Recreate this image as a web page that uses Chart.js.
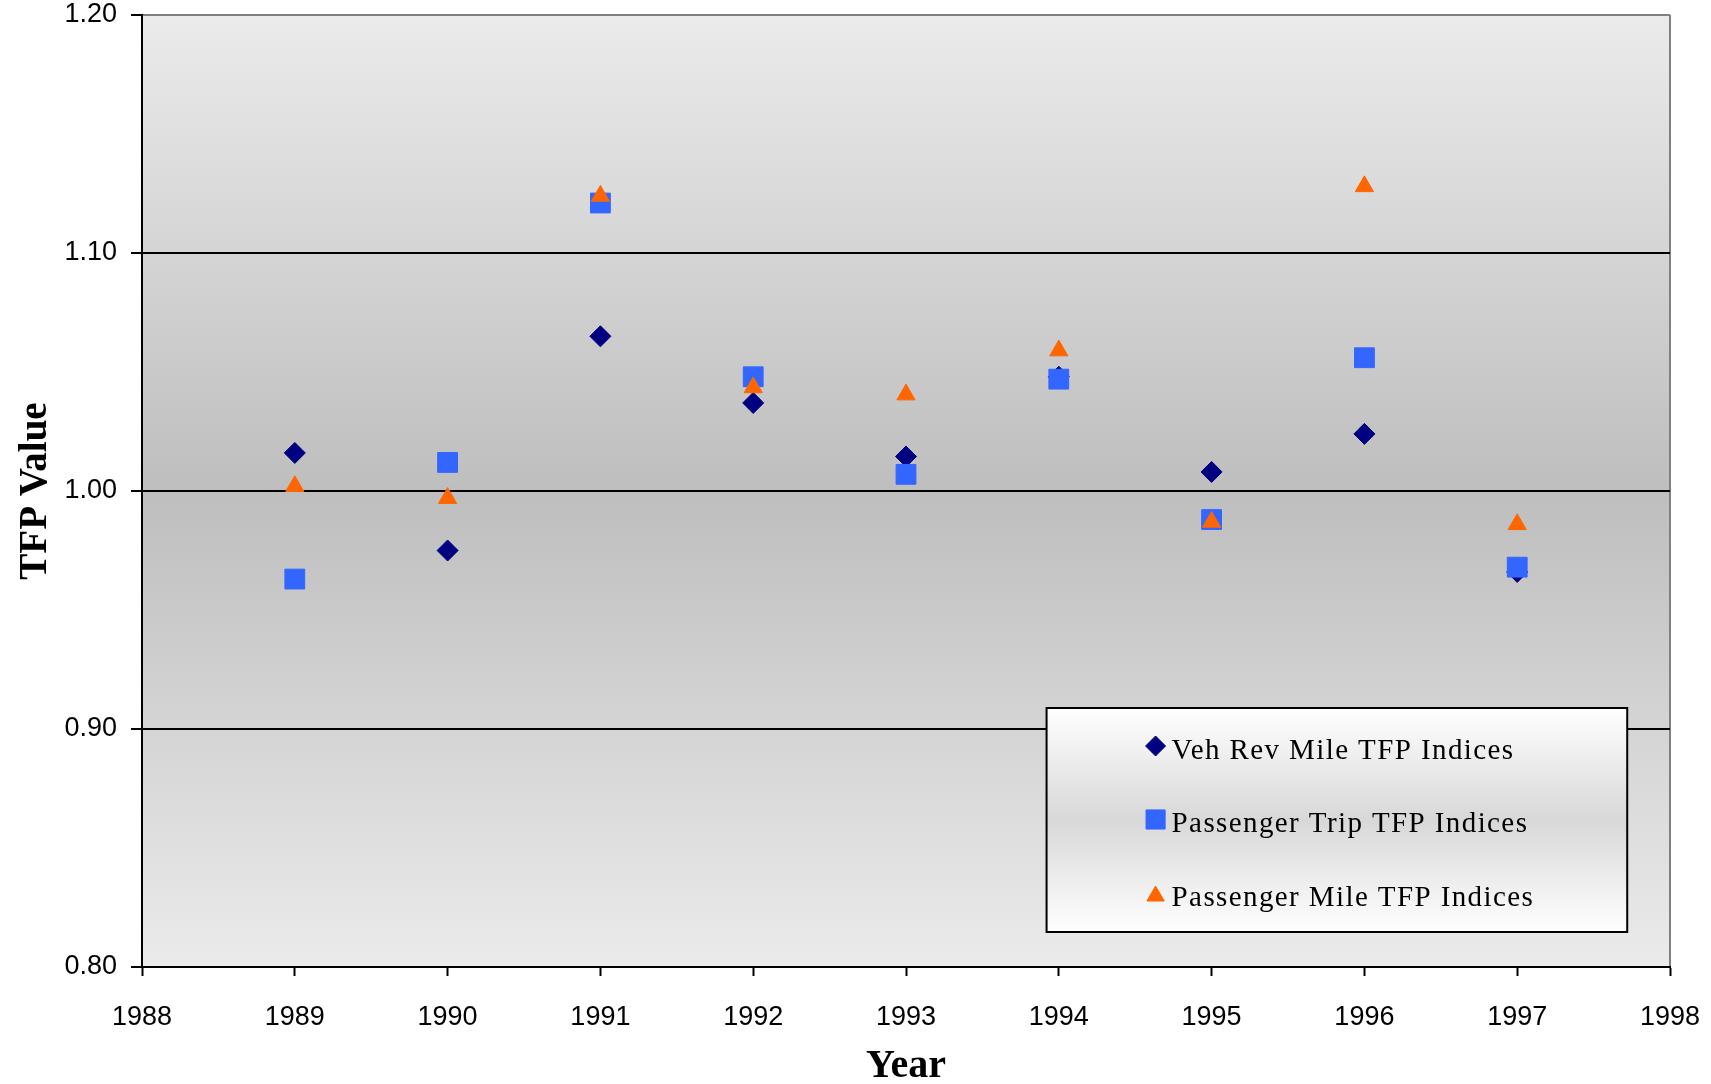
<!DOCTYPE html>
<html>
<head>
<meta charset="utf-8">
<script src="https://cdn.jsdelivr.net/npm/chart.js@4.4.1/dist/chart.umd.min.js"></script>
<style>
  body { margin: 0; background: #fff; }
  #wrap { width: 1711px; height: 1084px; }
</style>
</head>
<body>
<div id="wrap"><canvas id="tfp-chart" width="1711" height="1084"></canvas></div>
<script>
// Values
const years = [1989, 1990, 1991, 1992, 1993, 1994, 1995, 1996, 1997];
const vehRevMile = [1.016, 0.975, 1.065, 1.037, 1.0145, 1.048, 1.008, 1.024, 0.966];
const passengerTrip = [0.963, 1.012, 1.121, 1.048, 1.007, 1.047, 0.988, 1.056, 0.968];
const passengerMile = [1.002, 0.997, 1.124, 1.0435, 1.0405, 1.059, 0.987, 1.128, 0.986];

const seriesLabels = ["Veh Rev Mile TFP Indices", "Passenger Trip TFP Indices", "Passenger Mile TFP Indices"];
const yTicks = [0.80, 0.90, 1.00, 1.10, 1.20];

function toPoints(values)
{
  return years.map((yr, i) => ({ x: yr, y: values[i] }));
}

// Gray gradient behind the plot, plus the thin gray frame on the right
const plotBackground = {
  id: "plotBackground",
  beforeDraw(chart)
  {
    const { ctx, chartArea: a } = chart;
    const g = ctx.createLinearGradient(0, a.top, 0, a.bottom);
    g.addColorStop(0, "#ebebeb");
    g.addColorStop(0.5, "#bebebe");
    g.addColorStop(1, "#ebebeb");
    ctx.save();
    ctx.fillStyle = g;
    ctx.fillRect(a.left, a.top, a.right - a.left, a.bottom - a.top);
    ctx.strokeStyle = "#808080";
    ctx.lineWidth = 2;
    ctx.beginPath();
    ctx.moveTo(a.right, a.top);
    ctx.lineTo(a.right, a.bottom);
    ctx.stroke();
    ctx.restore();
  }
};

function drawLegendMarker(ctx, style, color, radius, x, y)
{
  ctx.fillStyle = color;
  ctx.strokeStyle = color;
  ctx.lineWidth = 1;
  Chart.helpers.drawPoint(ctx, { pointStyle: style, radius: radius, borderWidth: 1 }, x, y);
}

// Boxed legend sitting inside the plot, lower right
const boxLegend = {
  id: "boxLegend",
  afterDraw(chart)
  {
    const { ctx, chartArea: a } = chart;
    const w = a.right - a.left;
    const left = a.left + w * 0.592;
    const right = a.left + w * 0.972;
    const top = a.top + 693;
    const bottom = a.top + 917;

    ctx.save();
    const g = ctx.createLinearGradient(0, top, 0, bottom);
    g.addColorStop(0, "#ffffff");
    g.addColorStop(0.5, "#d8d8d8");
    g.addColorStop(1, "#ffffff");
    ctx.fillStyle = g;
    ctx.fillRect(left, top, right - left, bottom - top);
    ctx.strokeStyle = "#000";
    ctx.lineWidth = 2;
    ctx.strokeRect(left, top, right - left, bottom - top);

    chart.data.datasets.forEach((ds, i) => {
      const rowY = top + 43 + i * 73.5;
      const markerY = ds.pointStyle === "triangle" ? rowY - 2 : rowY - 5;
      const markerR = ds.pointStyle === "rect" ? 13.5 : 10;
      drawLegendMarker(ctx, ds.pointStyle, ds.backgroundColor, markerR, left + 109, markerY);

      ctx.font = "29px 'Liberation Serif', 'Times New Roman', serif";
      ctx.textBaseline = "middle";
      ctx.textAlign = "left";
      ctx.fillStyle = "#000";
      if ("letterSpacing" in ctx)
        ctx.letterSpacing = "1.4px";
      ctx.fillText(ds.label, left + 125, rowY);
      if ("letterSpacing" in ctx)
        ctx.letterSpacing = "0px";
    });
    ctx.restore();
  }
};

const ctx = document.getElementById("tfp-chart");

new Chart(ctx, {
  type: "scatter",
  data: {
    datasets: [
      {
        label: seriesLabels[0],
        data: toPoints(vehRevMile),
        pointStyle: "rectRot",
        pointRadius: 10.5,
        backgroundColor: "#000080",
        borderColor: "#000080",
        borderWidth: 1,
        order: 2
      },
      {
        label: seriesLabels[1],
        data: toPoints(passengerTrip),
        pointStyle: "rect",
        pointRadius: 14,
        backgroundColor: "#3366ff",
        borderColor: "#3366ff",
        borderWidth: 1,
        order: 1
      },
      {
        label: seriesLabels[2],
        data: toPoints(passengerMile),
        pointStyle: "triangle",
        pointRadius: 10.5,
        backgroundColor: "#ff6600",
        borderColor: "#ff6600",
        borderWidth: 1,
        order: 0
      }
    ]
  },
  options: {
    responsive: false,
    animation: false,
    devicePixelRatio: 1,
    layout: { padding: { top: 14, right: 41, left: 0, bottom: 0 } },
    plugins: {
      legend: { display: false },
      tooltip: { enabled: false }
    },
    scales: {
      x: {
        type: "linear",
        min: 1988,
        max: 1998,
        afterFit: (scale) => {
          scale.height = 117;
          scale.paddingLeft = 0;
          scale.paddingRight = 0;
        },
        grid: {
          drawOnChartArea: false,
          drawTicks: true,
          tickLength: 9,
          tickColor: "#000",
          tickWidth: 2
        },
        border: { color: "#000", width: 2 },
        ticks: {
          stepSize: 1,
          padding: 25,
          color: "#000",
          font: { family: "'Liberation Sans', Arial, sans-serif", size: 27 },
          callback: (v) => String(v)
        },
        title: {
          display: true,
          text: "Year",
          color: "#000",
          font: { family: "'Liberation Serif', 'Times New Roman', serif", size: 40, weight: "bold", lineHeight: 0.85 },
          padding: { top: 0, bottom: 0 }
        }
      },
      y: {
        min: 0.8,
        max: 1.2,
        afterFit: (scale) => {
          scale.width = 142;
          scale.paddingTop = 0;
          scale.paddingBottom = 0;
        },
        afterBuildTicks: (scale) => { scale.ticks = yTicks.map(v => ({ value: v })); },
        grid: {
          color: (c) => (c.tick && c.tick.value > 1.15 ? "#808080" : "#000"),
          lineWidth: 2,
          tickLength: 11,
          tickColor: "#000",
          tickWidth: 2
        },
        border: { color: "#000", width: 2 },
        ticks: {
          padding: 14,
          color: "#000",
          font: { family: "'Liberation Sans', Arial, sans-serif", size: 27 },
          callback: (v) => Number(v).toFixed(2)
        },
        title: {
          display: true,
          text: "TFP Value",
          color: "#000",
          font: { family: "'Liberation Serif', 'Times New Roman', serif", size: 39, weight: "bold", lineHeight: 1 },
          padding: { top: 16, bottom: 0 }
        }
      }
    }
  },
  plugins: [plotBackground, boxLegend]
});
</script>
</body>
</html>
